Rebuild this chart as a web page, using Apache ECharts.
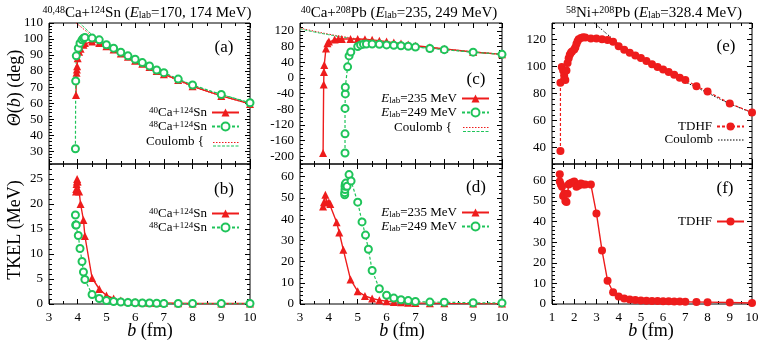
<!DOCTYPE html>
<html>
<head>
<meta charset="utf-8">
<script src="https://cdn.jsdelivr.net/npm/echarts@6/dist/echarts.min.js"></script>
<style>
html, body { margin: 0; padding: 0; background: #fff; }
#chart { width: 763px; height: 342px; }
</style>
</head>
<body>
<div id="chart"></div>
<script>
// ---- data: [b (fm), value] ----
// 40Ca+124Sn, Elab=170 MeV
var thetaCa40Sn = [[3.94,65],[3.95,75],[3.96,79],[3.97,81],[3.98,83],[4.0,88],[4.05,92],[4.1,94],[4.2,96.5],[4.25,97.5],[4.5,98.5],[4.75,97.5],[5,95.5],[5.25,93.5],[5.5,91],[5.75,89],[6,86.5],[6.25,84.5],[6.5,82.5],[6.75,80],[7,78],[7.5,74.5],[8,70.5],[9,64.5],[10,59.5]];
var tkelCa40Sn = [[3.94,22.5],[3.95,23],[3.96,24],[3.97,24.5],[3.98,25],[4.0,24.5],[4.05,22.5],[4.1,20],[4.2,16.8],[4.25,13.6],[4.5,5.2],[4.75,3],[5,1.7],[5.25,1.1],[5.5,0.7],[5.75,0.5],[6,0.4],[6.25,0.3],[6.5,0.25],[6.75,0.2],[7,0.2],[7.5,0.15],[8,0.1],[9,0.1],[10,0.1]];
var coulCa40Sn = [[3.94,110],[4.3,104.8],[4.6,100],[5,96],[6,86.5],[7,78],[8,70.5],[9,64.5],[10,59.5]];
// 48Ca+124Sn, Elab=174 MeV
var thetaCa48Sn = [[3.92,31.5],[3.93,73.8],[3.95,89.5],[4.02,94.3],[4.08,97.4],[4.15,99.5],[4.2,100.5],[4.25,101],[4.5,100.6],[4.75,99.5],[5,96.4],[5.25,94.3],[5.5,91.8],[5.75,89.5],[6,87.4],[6.25,85.3],[6.5,83.2],[6.75,80.7],[7,79],[7.5,75],[8,71.3],[9,65.4],[10,60.2]];
var tkelCa48Sn = [[3.92,17.8],[3.93,15.8],[3.95,15.8],[4.02,13.7],[4.08,11.1],[4.15,8.5],[4.2,6.4],[4.25,4.9],[4.5,1.9],[4.75,1.1],[5,0.7],[5.25,0.5],[5.5,0.4],[5.75,0.3],[6,0.25],[6.25,0.2],[6.5,0.2],[6.75,0.15],[7,0.1],[7.5,0.1],[8,0.1],[9,0.1],[10,0.1]];
var coulCa48Sn = [[4.05,110.5],[4.5,102.7],[4.75,99.8],[5,96.6],[6,87.5],[7,79],[8,71.3],[9,65.4],[10,60.2]];
// 40Ca+208Pb, Elab=235 MeV
var thetaPb235 = [[3.8,-192],[3.82,-17],[3.83,15],[3.84,33],[3.9,75],[3.95,88],[4.0,93],[4.2,98],[4.33,99],[4.45,99],[4.75,99],[5,99],[5.25,98.5],[5.5,97],[5.75,95],[6,92.5],[6.25,90],[6.5,87.5],[6.75,85],[7,82],[7.5,78],[8,74],[9,66],[10,60]];
var tkelPb235 = [[3.8,46],[3.83,48],[3.88,51.5],[3.92,48],[4.0,48],[4.05,47.2],[4.27,38.5],[4.36,33.7],[4.5,25.6],[4.75,11.6],[5,6],[5.25,3.8],[5.5,2.6],[5.75,1.8],[6,1.3],[6.25,1],[6.5,0.8],[6.75,0.6],[7,0.5],[7.5,0.4],[8,0.3],[9,0.2],[10,0.2]];
var coulPb235 = [[3,127],[3.5,119],[4,111.5],[4.5,105],[5,99.5],[6,90],[7,81.5],[8,74],[9,66.5],[10,60.5]];
// 40Ca+208Pb, Elab=249 MeV
var thetaPb249 = [[4.56,-192],[4.56,-143],[4.56,-78],[4.57,-41],[4.57,-24],[4.65,28],[4.7,56],[4.76,66],[5,80],[5.1,84],[5.2,86],[5.3,86.5],[5.5,86.5],[5.75,85.5],[6,84],[6.25,83],[6.5,82],[6.75,80.5],[7,78.5],[7.5,75],[8,72],[9,65.5],[10,60]];
var tkelPb249 = [[4.55,51.5],[4.55,52.5],[4.56,54],[4.56,55.5],[4.57,56.5],[4.59,57],[4.63,55.5],[4.7,61],[4.77,58],[5,48],[5.15,38.7],[5.27,32.5],[5.37,25.8],[5.5,15.8],[5.75,7.2],[6,4.1],[6.25,2.8],[6.5,2],[6.75,1.6],[7,1.2],[7.5,0.9],[8,0.8],[9,0.6],[10,0.5]];
var coulPb249 = [[3,125],[3.5,117],[4,110],[4.5,103.5],[5,97.5],[6,88],[7,79.5],[8,72.5],[9,65.5],[10,60]];
// 58Ni+208Pb, Elab=328.4 MeV
var thetaNiPb = [[1.38,37.5],[1.38,88],[1.44,99.5],[1.5,97],[1.55,93],[1.6,90],[1.65,97],[1.7,102.5],[1.75,106],[1.8,108.5],[1.85,110],[1.9,111],[2.0,112.5],[2.05,114],[2.1,116.5],[2.15,118.5],[2.2,120],[2.3,121],[2.4,121.5],[2.5,121.3],[2.75,120.5],[3,120.5],[3.25,120.1],[3.5,119.5],[3.75,118.2],[4,114.8],[4.25,112.3],[4.5,110],[4.75,108],[5,106.2],[5.25,104],[5.5,101.6],[5.75,99.6],[6,97.7],[6.25,95.8],[6.5,93.8],[6.75,91.6],[7,90],[7.5,85.4],[8,81.5],[9,72.7],[10,66]];
var tkelNiPb = [[1.35,63],[1.35,59.5],[1.4,58],[1.45,57],[1.5,52.5],[1.55,53.5],[1.6,50],[1.65,49.5],[1.7,53.5],[1.75,58],[1.8,58.5],[1.9,59],[2.0,59.5],[2.05,58.5],[2.1,57],[2.2,57.5],[2.3,58.5],[2.4,58],[2.5,58],[2.75,58],[3,44],[3.25,26],[3.5,11.3],[3.75,5.7],[4,3.6],[4.25,2.7],[4.5,2.2],[4.75,1.9],[5,1.7],[5.25,1.6],[5.5,1.5],[5.75,1.4],[6,1.3],[6.25,1.3],[6.5,1.2],[6.75,1.2],[7,1.1],[7.5,1],[8,0.9],[9,0.7],[10,0.5]];
var coulNiPb = [[2.9,132],[3.25,127],[3.5,123.5],[3.75,120],[4,116.5],[4.5,110.5],[5,105.5],[6,96.5],[7,88.5],[8,80.5],[9,72.5],[10,66]];

// tick labels
var bTicksCa = [3,4,5,6,7,8,9,10];
var bTicksNi = [1,2,3,4,5,6,7,8,9,10];
var thetaTicksA = [30,40,50,60,70,80,90,100,110];
var thetaTicksC = [-200,-160,-120,-80,-40,0,40,80,120];
var thetaTicksE = [40,60,80,100,120];
var tkelTicksB = [0,5,10,15,20,25];
var tkelTicksD = [0,10,20,30,40,50,60];
var tkelTicksF = [0,10,20,30,40,50,60];

var FONT = 'Liberation Serif';
var RED = '#ee1c1c';
var GREEN = '#1fc45a';

function makeRich(size, small) {
	return {
		sup: { fontSize: small, lineHeight: 1, verticalAlign: 'top', fontFamily: FONT, color: '#000' },
		sub: { fontSize: small, lineHeight: 1, verticalAlign: 'bottom', fontFamily: FONT, color: '#000' },
		it: { fontSize: size, fontStyle: 'italic', fontFamily: FONT, color: '#000' }
	};
}

function minors(min, max, step, majors) {
	var out = [];
	for (var v = Math.ceil(min / step) * step; v <= max + 1e-9; v += step) {
		var r = Math.round(v * 1000) / 1000;
		if (majors.indexOf(r) < 0) out.push(r);
	}
	return out;
}

var grids = [], xAxes = [], yAxes = [];

function addPanel(p) {
	var gi = grids.length;
	grids.push({ left: p.left, top: p.top, width: p.width, height: p.height, show: true, borderColor: '#000', borderWidth: 1, backgroundColor: 'transparent' });
	var xi = xAxes.length, yi = yAxes.length;
	var xMin = minors(p.x[0], p.x[1], 0.5, p.xTicks);
	var yMin = minors(p.y[0], p.y[1], p.yMinorStep, p.yTicks);
	[['bottom', p.xTicks, 5, p.xLabels], ['bottom', xMin, 3, false], ['top', p.xTicks, 5, false], ['top', xMin, 3, false]].forEach(function(a) {
		xAxes.push({
			type: 'value', gridIndex: gi, min: p.x[0], max: p.x[1], position: a[0],
			axisLine: { show: false, onZero: false }, splitLine: { show: false },
			axisTick: { inside: true, length: a[2], customValues: a[1], lineStyle: { color: '#000', width: 1 } },
			axisLabel: { show: a[3], customValues: p.xTicks, margin: 7, color: '#000', fontFamily: FONT, fontSize: 13 }
		});
	});
	[['left', p.yTicks, 5, true], ['left', yMin, 3, false], ['right', p.yTicks, 5, false], ['right', yMin, 3, false]].forEach(function(a) {
		yAxes.push({
			type: 'value', gridIndex: gi, min: p.y[0], max: p.y[1], position: a[0],
			axisLine: { show: false, onZero: false }, splitLine: { show: false },
			axisTick: { inside: true, length: a[2], customValues: a[1], lineStyle: { color: '#000', width: 1 } },
			axisLabel: { show: a[3], customValues: p.yTicks, margin: 6, color: '#000', fontFamily: FONT, fontSize: 13 }
		});
	});
	return { x: xi, y: yi };
}

var pA = addPanel({ left: 49, top: 23, width: 201, height: 141, x: [3, 10], xTicks: bTicksCa, xLabels: false, y: [22, 110], yTicks: thetaTicksA, yMinorStep: 2 });
var pB = addPanel({ left: 49, top: 164, width: 201, height: 140, x: [3, 10], xTicks: bTicksCa, xLabels: true, y: [0, 28], yTicks: tkelTicksB, yMinorStep: 1 });
var pC = addPanel({ left: 300, top: 23, width: 202, height: 141, x: [3, 10], xTicks: bTicksCa, xLabels: false, y: [-220, 140], yTicks: thetaTicksC, yMinorStep: 10 });
var pD = addPanel({ left: 300, top: 164, width: 202, height: 140, x: [3, 10], xTicks: bTicksCa, xLabels: true, y: [0, 66], yTicks: tkelTicksD, yMinorStep: 2 });
var pE = addPanel({ left: 552, top: 23, width: 200, height: 141, x: [1, 10], xTicks: bTicksNi, xLabels: false, y: [28, 132], yTicks: thetaTicksE, yMinorStep: 4 });
var pF = addPanel({ left: 552, top: 164, width: 200, height: 140, x: [1, 10], xTicks: bTicksNi, xLabels: true, y: [0, 68], yTicks: tkelTicksF, yMinorStep: 2 });

function dataLine(name, data, p, color, kind) {
	var s = {
		name: name, type: 'line', data: data, xAxisIndex: p.x, yAxisIndex: p.y, z: 3,
		showSymbol: true, showAllSymbol: true, symbolSize: 8, silent: true,
		itemStyle: { color: color },
		lineStyle: { color: color, width: 1.4 }
	};
	if (kind === 'tri') { s.symbol = 'triangle'; }
	if (kind === 'ring') { s.symbol = 'emptyCircle'; s.symbolSize = 7; s.itemStyle.borderWidth = 1.4; s.lineStyle.type = [3, 2]; s.lineStyle.width = 1.2; }
	if (kind === 'dot') { s.symbol = 'circle'; s.lineStyle.type = [3, 2]; s.lineStyle.width = 1.2; }
	if (kind === 'dotSolid') { s.symbol = 'circle'; }
	return s;
}
function coulLine(name, data, p, color, dash) {
	return {
		name: name, type: 'line', data: data, xAxisIndex: p.x, yAxisIndex: p.y, z: 2,
		symbol: 'none', showSymbol: false, silent: true, smooth: true,
		itemStyle: { color: color },
		lineStyle: { color: color, width: 1, type: dash }
	};
}

var series = [
	coulLine('coulA1', coulCa40Sn, pA, RED, [1.5, 1.5]),
	coulLine('coulA2', coulCa48Sn, pA, GREEN, [3, 1.5]),
	dataLine('a1', thetaCa40Sn, pA, RED, 'tri'),
	dataLine('a2', thetaCa48Sn, pA, GREEN, 'ring'),
	dataLine('b1', tkelCa40Sn, pB, RED, 'tri'),
	dataLine('b2', tkelCa48Sn, pB, GREEN, 'ring'),
	coulLine('coulC1', coulPb235, pC, RED, [1.5, 1.5]),
	coulLine('coulC2', coulPb249, pC, GREEN, [3, 1.5]),
	dataLine('c1', thetaPb235, pC, RED, 'tri'),
	dataLine('c2', thetaPb249, pC, GREEN, 'ring'),
	dataLine('d1', tkelPb235, pD, RED, 'tri'),
	dataLine('d2', tkelPb249, pD, GREEN, 'ring'),
	coulLine('coulE', coulNiPb, pE, '#000', [1.5, 1.5]),
	dataLine('e1', thetaNiPb, pE, RED, 'dot'),
	dataLine('f1', tkelNiPb, pF, RED, 'dotSolid')
];

var legendText = {
	a1: '{sup|40}Ca+{sup|124}Sn', a2: '{sup|48}Ca+{sup|124}Sn',
	b1: '{sup|40}Ca+{sup|124}Sn', b2: '{sup|48}Ca+{sup|124}Sn',
	c1: '{it|E}{sub|lab}=235 MeV', c2: '{it|E}{sub|lab}=249 MeV',
	d1: '{it|E}{sub|lab}=235 MeV', d2: '{it|E}{sub|lab}=249 MeV',
	e1: 'TDHF', f1: 'TDHF'
};

function legend(names, right, top) {
	return {
		data: names, orient: 'vertical', right: right, top: top, align: 'right',
		itemWidth: 27, itemHeight: 10, itemGap: 1, padding: 0, selectedMode: false,
		formatter: function(n) { return legendText[n]; },
		textStyle: { fontFamily: FONT, fontSize: 13, lineHeight: 13, color: '#000', rich: makeRich(13, 9) }
	};
}

var titleRich = makeRich(15, 10);
var nameRich = makeRich(18, 12);

function txt(x, y, text, size, rich, align, rot) {
	return {
		type: 'text', x: x, y: y, rotation: rot || 0, silent: true,
		style: { text: text, fontFamily: FONT, fontSize: size, fill: '#000', align: align || 'center', verticalAlign: 'middle', rich: rich }
	};
}
function seg(x1, x2, y, color, dash) {
	return { type: 'line', silent: true, shape: { x1: x1, y1: y, x2: x2, y2: y }, style: { stroke: color, lineWidth: 1, lineDash: dash } };
}

var graphics = [
	txt(147, 13, '{sup|40,48}Ca+{sup|124}Sn ({it|E}{sub|lab}=170, 174 MeV)', 15, titleRich),
	txt(399, 13, '{sup|40}Ca+{sup|208}Pb ({it|E}{sub|lab}=235, 249 MeV)', 15, titleRich),
	txt(654, 13, '{sup|58}Ni+{sup|208}Pb ({it|E}{sub|lab}=328.4 MeV)', 15, titleRich),
	txt(15, 88, '{it|Θ}({it|b}) (deg)', 18, nameRich, 'center', Math.PI / 2),
	txt(15, 230, 'TKEL (MeV)', 18, nameRich, 'center', Math.PI / 2),
	txt(150, 331, '{it|b} (fm)', 18, nameRich),
	txt(402, 331, '{it|b} (fm)', 18, nameRich),
	txt(651, 331, '{it|b} (fm)', 18, nameRich),
	txt(224, 48, '(a)', 17), txt(224, 190, '(b)', 17),
	txt(476, 80, '(c)', 17), txt(476, 188, '(d)', 17),
	txt(726, 47, '(e)', 17), txt(725, 189, '(f)', 17),
	txt(204, 142, 'Coulomb {', 13, null, 'right'),
	seg(213, 240, 142.5, RED, [1.5, 1.5]),
	seg(213, 240, 146, GREEN, [3, 1.5]),
	txt(452, 128, 'Coulomb {', 13, null, 'right'),
	seg(463, 490, 127.5, RED, [1.5, 1.5]),
	seg(463, 490, 131.5, GREEN, [3, 1.5]),
	txt(713, 140, 'Coulomb', 13, null, 'right'),
	seg(718, 745, 140, '#000', [1.5, 1.5])
];

var chart = echarts.init(document.getElementById('chart'));
chart.setOption({
	animation: false,
	backgroundColor: '#fff',
	grid: grids,
	xAxis: xAxes,
	yAxis: yAxes,
	legend: [
		legend(['a1', 'a2'], 523, 106),
		legend(['b1', 'b2'], 523, 207),
		legend(['c1', 'c2'], 273, 92),
		legend(['d1', 'd2'], 273, 206),
		legend(['e1'], 18, 120),
		legend(['f1'], 18, 215)
	],
	series: series,
	graphic: graphics
});
</script>
</body>
</html>
